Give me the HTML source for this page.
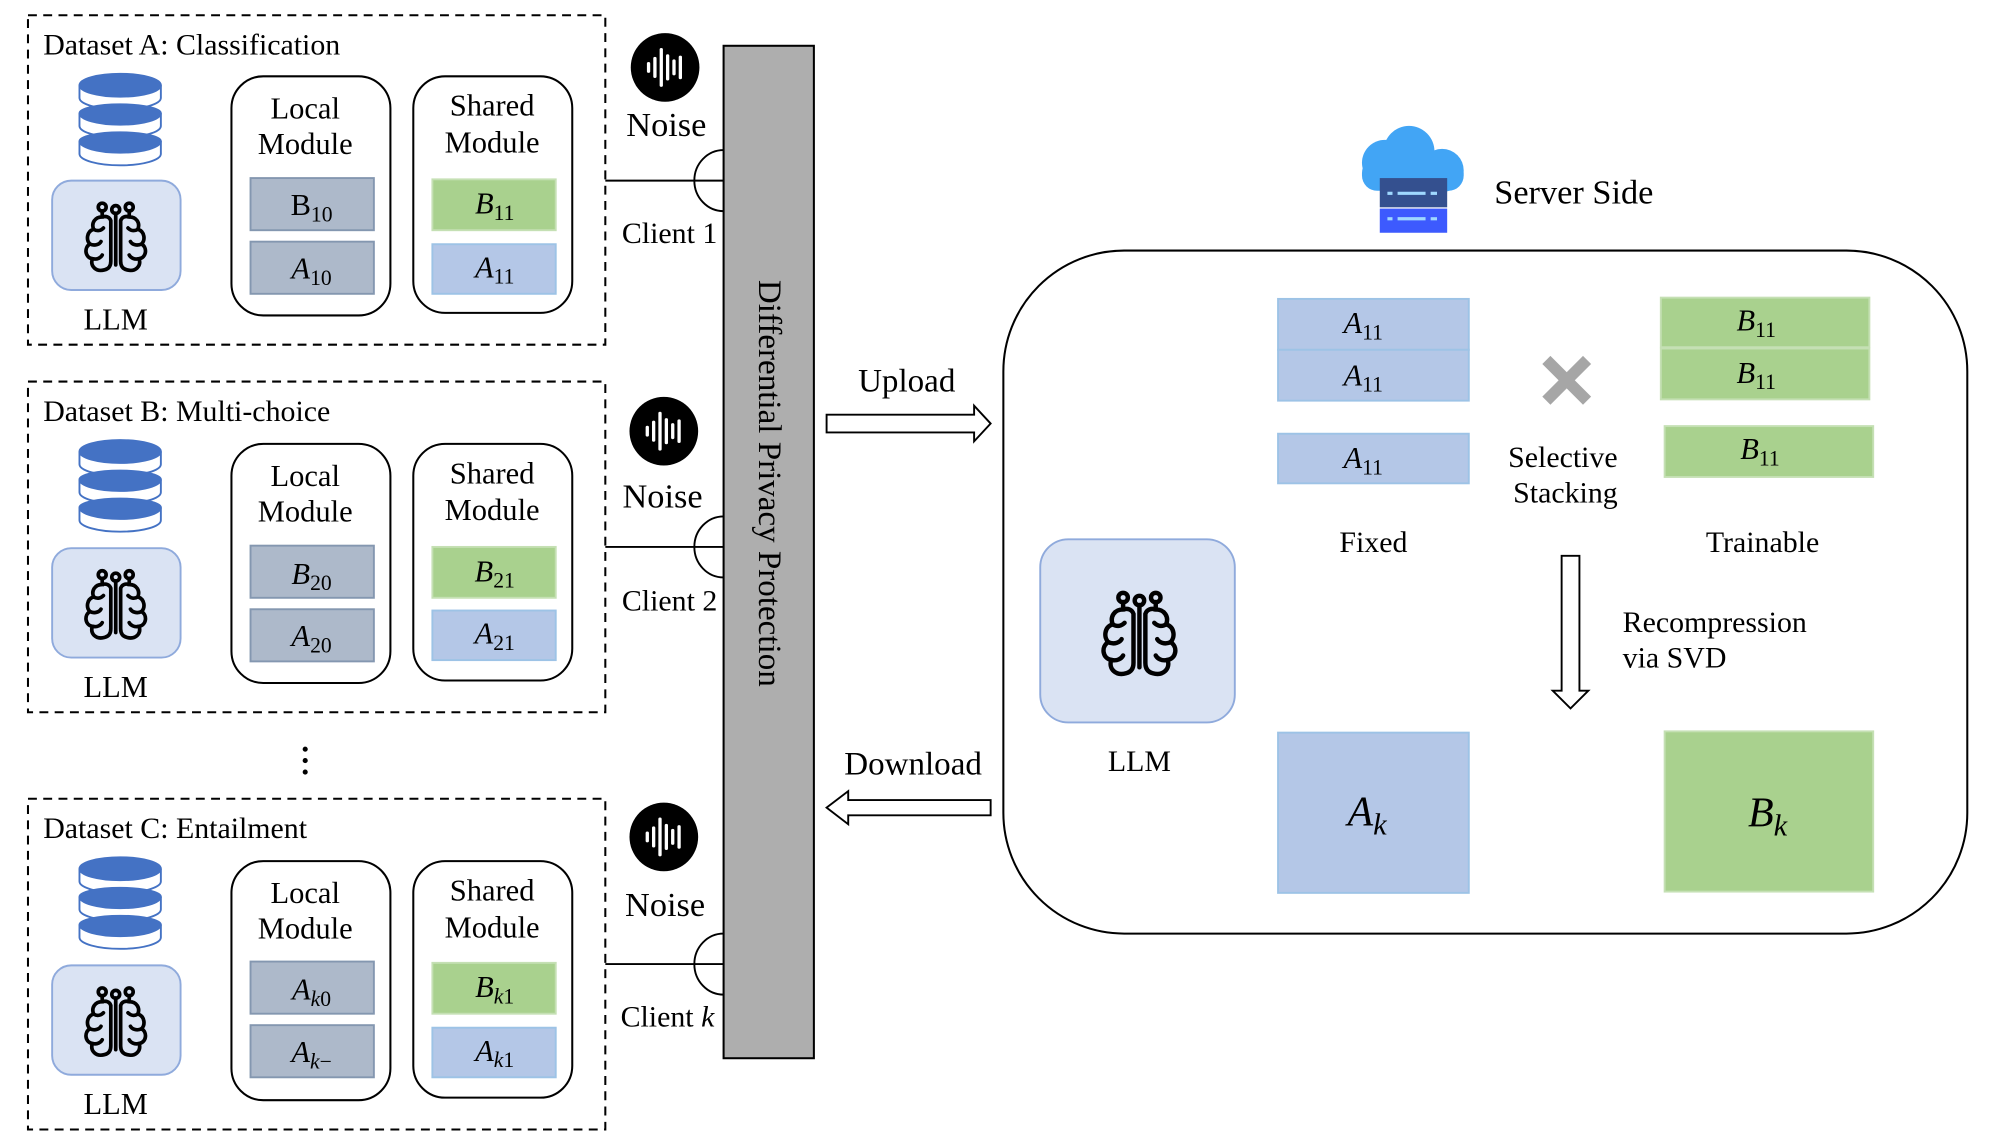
<!DOCTYPE html>
<html><head><meta charset="utf-8"><style>
html,body{margin:0;padding:0;background:#fff;}
svg{display:block;}
text{font-family:"Liberation Serif",serif;fill:#000;}
.it{font-style:italic;}
</style></head><body>
<svg width="1994" height="1132" viewBox="0 0 1568 890" preserveAspectRatio="none" xmlns="http://www.w3.org/2000/svg">
<defs>
<symbol id="brain" viewBox="0 0 60 60">
<g fill="none" stroke="#000" stroke-width="3" stroke-linecap="round">
<circle cx="30" cy="7" r="3.2"/><circle cx="19" cy="5" r="3.2"/><circle cx="41" cy="5" r="3.2"/>
<line x1="30" y1="10" x2="30" y2="52"/>
<path d="M19,8 L19,13 C13,13 10,18 12,23 C6,25 6,32 9,35 C4,38 5,46 11,47 C9,53 14,58 21,56 C25,55 26,52 26,49 L26,16 C25,13 22,12 19,13"/>
<path d="M41,8 L41,13 C47,13 50,18 48,23 C54,25 54,32 51,35 C56,38 55,46 49,47 C51,53 46,58 39,56 C35,55 34,52 34,49 L34,16 C35,13 38,12 41,13"/>
<path d="M12,23 C15,25 18,24 20,22 M9,35 C13,37 17,35 18,33 M11,47 C15,48 18,46 19,44 M48,23 C45,25 42,24 40,22 M51,35 C47,37 43,35 42,33 M49,47 C45,48 42,46 41,44"/>
</g>
</symbol>
<symbol id="db" viewBox="0 0 66 74">
<g stroke="#4472c4" stroke-width="1.5">
<path d="M1,10 v10 a32,9 0 0 0 64,0 v-10" fill="#fff"/>
<ellipse cx="33" cy="10" rx="32" ry="9" fill="#4472c4"/>
<path d="M1,32 v10 a32,9 0 0 0 64,0 v-10" fill="#fff"/>
<path d="M1,32 a32,9 0 0 0 64,0 a32,7 0 0 0 -64,0" fill="#4472c4"/>
<path d="M1,54 v10 a32,9 0 0 0 64,0 v-10" fill="#fff"/>
<path d="M1,54 a32,9 0 0 0 64,0 a32,7 0 0 0 -64,0" fill="#4472c4"/>
</g>
</symbol>
<symbol id="noise" viewBox="0 0 56 56">
<circle cx="28" cy="28" r="27" fill="#000"/>
<g stroke="#fff" stroke-width="2.6" stroke-linecap="round">
<line x1="15" y1="25" x2="15" y2="31"/><line x1="20" y1="21" x2="20" y2="35"/><line x1="25" y1="14" x2="25" y2="42"/>
<line x1="30" y1="19" x2="30" y2="37"/><line x1="35" y1="23" x2="35" y2="33"/><line x1="40" y1="20" x2="40" y2="36"/>
</g>
</symbol>
</defs>

<g fill="none" stroke="#000" stroke-width="1.6" stroke-dasharray="7,5">
<rect x="22" y="12" width="454" height="259"/>
<rect x="22" y="300" width="454" height="260"/>
<rect x="22" y="628" width="454" height="260"/>
</g>
<g font-size="23.5">
<text x="34" y="43">Dataset A: Classification</text>
<text x="34" y="331">Dataset B: Multi-choice</text>
<text x="34" y="659">Dataset C: Entailment</text>
</g>

<use href="#db" x="61" y="57" width="67" height="74"/>
<use href="#db" x="61" y="345" width="67" height="74"/>
<use href="#db" x="61" y="673" width="67" height="74"/>

<g fill="#dae3f3" stroke="#8faadc" stroke-width="1.5">
<rect x="41" y="142" width="101" height="86" rx="15"/>
<rect x="41" y="431" width="101" height="86" rx="15"/>
<rect x="41" y="759" width="101" height="86" rx="15"/>
<rect x="818" y="424" width="153" height="144" rx="22"/>
</g>
<use href="#brain" x="62" y="157" width="58" height="60"/>
<use href="#brain" x="62" y="446" width="58" height="60"/>
<use href="#brain" x="62" y="774" width="58" height="60"/>
<use href="#brain" x="861" y="460" width="70" height="78"/>

<g font-size="24" text-anchor="middle">
<text x="91" y="259">LLM</text>
<text x="91" y="548">LLM</text>
<text x="91" y="876">LLM</text>
</g>

<g fill="none" stroke="#000" stroke-width="1.6">
<rect x="182" y="60" width="125" height="188" rx="25"/>
<rect x="325" y="60" width="125" height="186" rx="25"/>
<rect x="182" y="349" width="125" height="188" rx="25"/>
<rect x="325" y="349" width="125" height="186" rx="25"/>
<rect x="182" y="677" width="125" height="188" rx="25"/>
<rect x="325" y="677" width="125" height="186" rx="25"/>
</g>
<g font-size="24" text-anchor="middle">
<text x="240" y="93">Local</text><text x="240" y="121">Module</text>
<text x="387" y="91">Shared</text><text x="387" y="120">Module</text>
<text x="240" y="382">Local</text><text x="240" y="410">Module</text>
<text x="387" y="380">Shared</text><text x="387" y="409">Module</text>
<text x="240" y="710">Local</text><text x="240" y="738">Module</text>
<text x="387" y="708">Shared</text><text x="387" y="737">Module</text>
</g>

<g fill="#adb9ca" stroke="#8497b0" stroke-width="1.5">
<rect x="197" y="140" width="97" height="41"/><rect x="197" y="190" width="97" height="41"/>
<rect x="197" y="429" width="97" height="41"/><rect x="197" y="479" width="97" height="41"/>
<rect x="197" y="756" width="97" height="41"/><rect x="197" y="806" width="97" height="41"/>
</g>
<g fill="#a9d18e" stroke="#c5e0b4" stroke-width="1.5">
<rect x="340" y="141" width="97" height="40"/><rect x="340" y="430" width="97" height="40"/><rect x="340" y="757" width="97" height="40"/>
<rect x="1306" y="234" width="164" height="39"/><rect x="1306" y="274" width="164" height="40"/><rect x="1309" y="335" width="164" height="40"/>
<rect x="1309" y="575" width="164" height="126"/>
</g>
<g fill="#b4c7e7" stroke="#9dc3e6" stroke-width="1.5">
<rect x="340" y="192" width="97" height="39"/><rect x="340" y="480" width="97" height="39"/><rect x="340" y="808" width="97" height="39"/>
<rect x="1005" y="235" width="150" height="40"/><rect x="1005" y="275" width="150" height="40"/><rect x="1005" y="341" width="150" height="39"/>
<rect x="1005" y="576" width="150" height="126"/>
</g>

<g font-size="24" text-anchor="middle">
<text x="245" y="169">B<tspan font-size="17" dy="5">10</tspan></text>
<text x="245" y="219"><tspan class="it">A</tspan><tspan font-size="17" dy="5">10</tspan></text>
<text x="245" y="459"><tspan class="it">B</tspan><tspan font-size="17" dy="5">20</tspan></text>
<text x="245" y="508"><tspan class="it">A</tspan><tspan font-size="17" dy="5">20</tspan></text>
<text x="245" y="786"><tspan class="it">A</tspan><tspan font-size="17" dy="5" class="it">k</tspan><tspan font-size="17">0</tspan></text>
<text x="245" y="835"><tspan class="it">A</tspan><tspan font-size="17" dy="5" class="it">k</tspan><tspan font-size="17">−</tspan></text>
<text x="389" y="168"><tspan class="it">B</tspan><tspan font-size="17" dy="5">11</tspan></text>
<text x="389" y="218"><tspan class="it">A</tspan><tspan font-size="17" dy="5">11</tspan></text>
<text x="389" y="457"><tspan class="it">B</tspan><tspan font-size="17" dy="5">21</tspan></text>
<text x="389" y="506"><tspan class="it">A</tspan><tspan font-size="17" dy="5">21</tspan></text>
<text x="389" y="784"><tspan class="it">B</tspan><tspan font-size="17" dy="5" class="it">k</tspan><tspan font-size="17">1</tspan></text>
<text x="389" y="834"><tspan class="it">A</tspan><tspan font-size="17" dy="5" class="it">k</tspan><tspan font-size="17">1</tspan></text>
<text x="1072" y="262"><tspan class="it">A</tspan><tspan font-size="17" dy="5">11</tspan></text>
<text x="1072" y="303"><tspan class="it">A</tspan><tspan font-size="17" dy="5">11</tspan></text>
<text x="1072" y="368"><tspan class="it">A</tspan><tspan font-size="17" dy="5">11</tspan></text>
<text x="1381" y="260"><tspan class="it">B</tspan><tspan font-size="17" dy="5">11</tspan></text>
<text x="1381" y="301"><tspan class="it">B</tspan><tspan font-size="17" dy="5">11</tspan></text>
<text x="1384" y="361"><tspan class="it">B</tspan><tspan font-size="17" dy="5">11</tspan></text>
<text x="1075" y="649" font-size="33"><tspan class="it">A</tspan><tspan font-size="24" dy="7" class="it">k</tspan></text>
<text x="1390" y="650" font-size="33"><tspan class="it">B</tspan><tspan font-size="24" dy="7" class="it">k</tspan></text>
</g>

<g fill="#000"><circle cx="240" cy="589" r="2"/><circle cx="240" cy="598" r="2"/><circle cx="240" cy="607" r="2"/></g>

<use href="#noise" x="495" y="25" width="56" height="56"/>
<use href="#noise" x="494" y="311" width="56" height="56"/>
<use href="#noise" x="494" y="630" width="56" height="56"/>
<g font-size="27" text-anchor="middle">
<text x="524" y="107">Noise</text>
<text x="521" y="399">Noise</text>
<text x="523" y="720">Noise</text>
</g>
<g font-size="23.5">
<text x="489" y="191">Client 1</text>
<text x="489" y="480">Client 2</text>
<text x="488" y="807">Client <tspan class="it">k</tspan></text>
</g>
<g fill="none" stroke="#000" stroke-width="1.5">
<line x1="476" y1="142" x2="569" y2="142"/><path d="M569,118 A23,24 0 0 0 569,166"/>
<line x1="476" y1="430" x2="569" y2="430"/><path d="M569,406 A23,24 0 0 0 569,454"/>
<line x1="476" y1="758" x2="569" y2="758"/><path d="M569,734 A23,24 0 0 0 569,782"/>
</g>

<rect x="569" y="36" width="71" height="796" fill="#aeaeae" stroke="#000" stroke-width="1.6"/>
<text transform="translate(597,380) rotate(90)" font-size="26" text-anchor="middle">Differential Privacy Protection</text>

<g font-size="26" text-anchor="middle">
<text x="713" y="308">Upload</text>
<text x="718" y="609">Download</text>
</g>
<g fill="#fff" stroke="#000" stroke-width="1.5">
<path d="M650,326 L766,326 L766,319 L779,333 L766,347 L766,340 L650,340 Z"/>
<path d="M779,629 L667,629 L667,622 L650,635 L667,648 L667,641 L779,641 Z"/>
<path d="M1228,437 L1242,437 L1242,543 L1249,543 L1235,557 L1221,543 L1228,543 Z"/>
</g>

<rect x="789" y="197" width="758" height="537" rx="95" fill="none" stroke="#000" stroke-width="1.6"/>
<g>
<circle cx="1089" cy="128" r="18" fill="#42a5f5"/>
<circle cx="1108" cy="119" r="20" fill="#42a5f5"/>
<circle cx="1134" cy="134" r="17" fill="#42a5f5"/>
<rect x="1071" y="124" width="80" height="26" rx="12" fill="#42a5f5"/>
<rect x="1085" y="140" width="53" height="23" fill="#34508f"/>
<rect x="1085" y="164" width="53" height="19" fill="#3d5afe"/>
<g stroke="#9fd8ff" stroke-width="2.5"><line x1="1091" y1="152" x2="1095" y2="152"/><line x1="1099" y1="152" x2="1121" y2="152"/><line x1="1125" y1="152" x2="1130" y2="152"/>
<line x1="1091" y1="172" x2="1095" y2="172"/><line x1="1099" y1="172" x2="1121" y2="172"/><line x1="1125" y1="172" x2="1130" y2="172"/></g>
</g>
<text x="1175" y="160" font-size="27">Server Side</text>

<g stroke="#a6a6a6" stroke-width="9"><line x1="1216" y1="283" x2="1248" y2="315"/><line x1="1248" y1="283" x2="1216" y2="315"/></g>

<g font-size="23.5" text-anchor="middle">
<text x="1229" y="367">Selective</text>
<text x="1231" y="395">Stacking</text>
<text x="1080" y="434">Fixed</text>
<text x="1386" y="434">Trainable</text>
<text x="896" y="606">LLM</text>
</g>
<g font-size="23.5">
<text x="1276" y="497">Recompression</text>
<text x="1276" y="525">via SVD</text>
</g>
</svg>
</body></html>
